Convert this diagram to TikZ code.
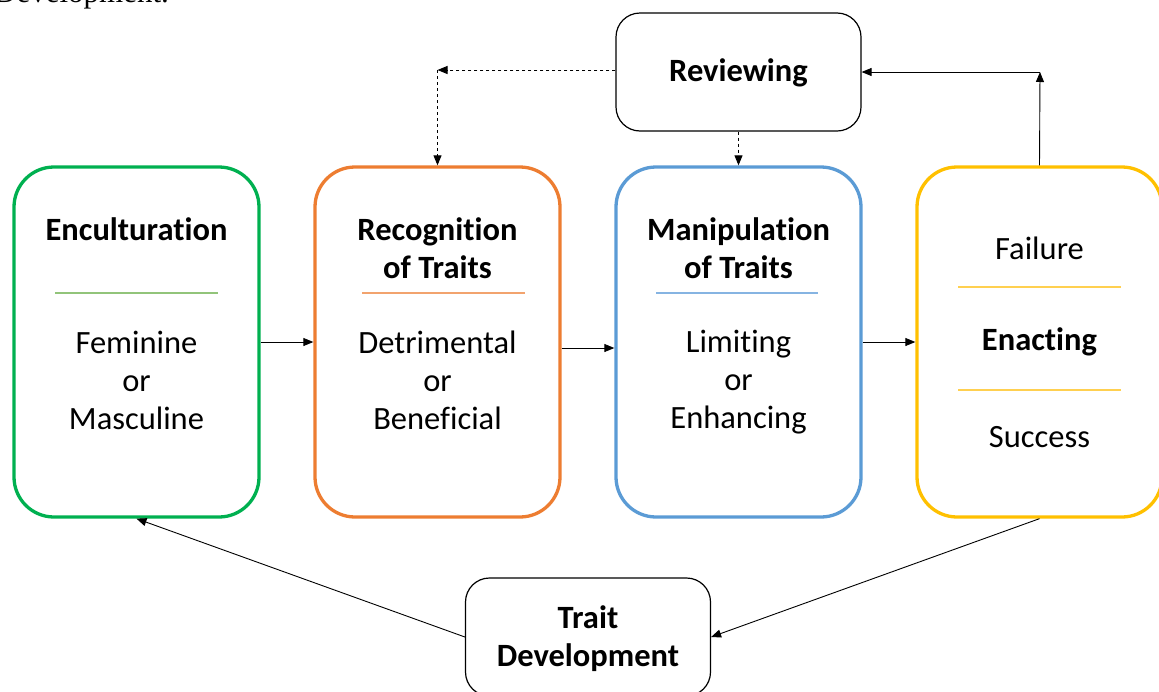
\documentclass[tikz,border=0pt]{standalone}
\usepackage{fontspec}
\setmainfont[Ligatures=NoCommon]{Carlito}
\newfontfamily\serifcap{Liberation Serif}
\usetikzlibrary{arrows.meta,calc}
\definecolor{cgreen}{HTML}{00B050}
\definecolor{corange}{HTML}{ED7D31}
\definecolor{cblue}{HTML}{5B9BD5}
\definecolor{cyellow}{HTML}{FFC000}
\definecolor{lgreen}{HTML}{92C47A}
\definecolor{lorange}{HTML}{F2A36E}
\definecolor{lblue}{HTML}{86B4E2}
\definecolor{lyellow}{HTML}{FFD050}
\tikzset{
  bigbox/.style={draw, line width=3.3pt, rounded corners=40pt, minimum width=245pt, minimum height=350pt, inner sep=0pt},
  smallbox/.style={draw, line width=1.2pt, rounded corners=24pt, minimum width=245pt, minimum height=118pt, inner sep=0pt},
  txt/.style={font=\fontsize{32.5}{38}\selectfont, align=center, inner sep=0pt},
  btxt/.style={font=\fontsize{32.5}{38}\selectfont\bfseries, align=center, inner sep=0pt},
  sep/.style={line width=1.3pt},
  arr/.style={line width=0.9pt, -{Triangle[length=10pt,width=8pt]}},
  darr/.style={line width=0.9pt, dash pattern=on 3pt off 3pt, -{Triangle[length=10pt,width=8pt]}}
}
\begin{document}
\begin{tikzpicture}[x=1pt,y=-1pt]
\useasboundingbox (0,0) rectangle (1159,691);
\clip (0,0) rectangle (1159,691);
\node[anchor=base west, inner sep=0pt, font=\serifcap\fontsize{31}{36}\selectfont] (cap) at (-6,2) {Development.};
% boxes
\node[bigbox, draw=cgreen] (enc) at (136.5,342) {};
\node[bigbox, draw=corange] (rec) at (437.5,342) {};
\node[bigbox, draw=cblue] (man) at (738.5,342) {};
\node[bigbox, draw=cyellow] (ena) at (1039.5,342) {};
\node[smallbox] (rev) at (738.5,72) {};
\node[smallbox] (td) at (588,637) {};
% texts
\node[btxt] (t1) at (136.5,229) {Enculturation};
\draw[sep, lgreen] (55,293) -- (218,293);
\node[txt] (t2) at (136.5,380) {Feminine\\or\\Masculine};
\node[btxt] (t3) at (437.5,248) {Recognition\\of Traits};
\draw[sep, lorange] (362,293) -- (525,293);
\node[txt] (t4) at (437.5,380) {Detrimental\\or\\Beneficial};
\node[btxt] (t5) at (738.5,248) {Manipulation\\of Traits};
\draw[sep, lblue] (656,293) -- (818,293);
\node[txt] (t6) at (738.5,382) {Limiting\\or\\Enhancing};
\node[txt] (t7) at (1039.5,248) {Failure};
\draw[sep, lyellow] (958,287) -- (1121,287);
\node[btxt] (t8) at (1039.5,342) {Enacting};
\draw[sep, lyellow] (958,390) -- (1121,390);
\node[txt] (t9) at (1039.5,437) {Success};
\node[btxt] (t10) at (738.5,73) {Reviewing};
\node[btxt] (t11) at (588,639) {Trait\\Development};
% connectors
\coordinate (c1) at (437.5,70);
\coordinate (c2) at (1040,72);
\draw[arr] (enc.east) -- (rec.west);
\draw[arr] ([yshift=-6pt]rec.east) -- ([yshift=-6pt]man.west);
\draw[arr] (man.east) -- (ena.west);
\draw[darr] ([yshift=2pt]rev.west) -- (c1);
\draw[darr] (c1) -- (rec.north);
\draw[darr] (rev.south) -- (man.north);
\draw[arr] (ena.north) -- (c2);
\draw[arr] (c2) -- (rev.east);
\draw[arr] (ena.south) -- (td.east);
\draw[arr] (td.west) -- (enc.south);
\end{tikzpicture}
\end{document}
